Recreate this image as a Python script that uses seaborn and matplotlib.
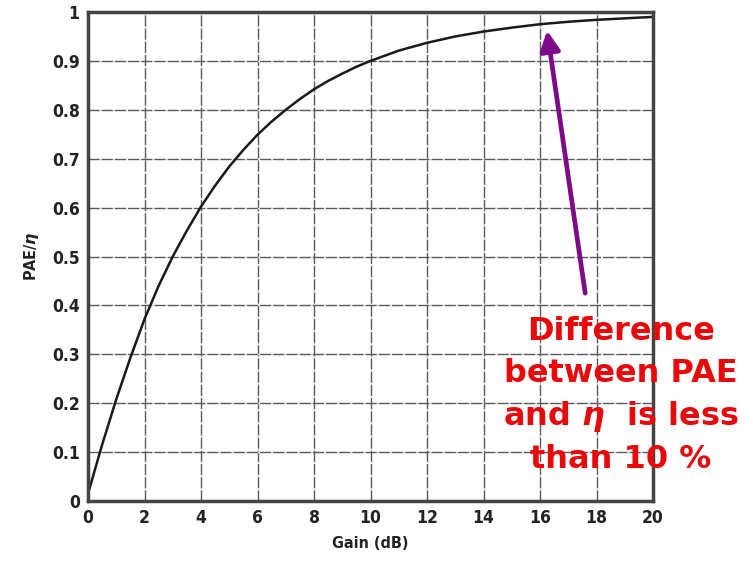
import matplotlib
matplotlib.use("Agg")
import matplotlib.pyplot as plt
import seaborn as sns
import pandas as pd

gain_db = [0, 0.5, 1, 1.5, 2, 2.5, 3, 3.5, 4, 4.5, 5, 5.5, 6, 6.5, 7, 7.5, 8, 8.5, 9, 9.5, 10,
           11, 12, 13, 14, 15, 16, 17, 18, 19, 20]
pae_ratio = [0.015, 0.115, 0.208, 0.293, 0.372, 0.44, 0.5, 0.553, 0.602, 0.645, 0.684, 0.718,
             0.749, 0.776, 0.8, 0.822, 0.842, 0.859, 0.874, 0.888, 0.9,
             0.921, 0.937, 0.95, 0.96, 0.968, 0.975, 0.98, 0.984, 0.987, 0.99]
x_ticks = list(range(0, 21, 2))
y_ticks = [0, 0.1, 0.2, 0.3, 0.4, 0.5, 0.6, 0.7, 0.8, 0.9, 1]
y_tick_labels = ["0", "0.1", "0.2", "0.3", "0.4", "0.5", "0.6", "0.7", "0.8", "0.9", "1"]
note_lines = ["Difference", "between PAE", r"and $\eta$  is less", "than 10 %"]

df = pd.DataFrame({"gain": gain_db, "ratio": pae_ratio})

sns.set_theme(style="white")
plt.rcParams["font.family"] = ["DejaVu Sans"]
plt.rcParams["mathtext.fontset"] = "custom"
plt.rcParams["mathtext.it"] = "DejaVu Sans:italic:bold"

fig = plt.figure(figsize=(7.48, 5.62), dpi=100)
ax = fig.add_axes([88 / 748, 1 - 501 / 562, (653 - 88) / 748, (501 - 12) / 562])

sns.lineplot(data=df, x="gain", y="ratio", ax=ax, color="#1a1a1a", linewidth=1.8)

ax.set_xlim(0, 20)
ax.set_ylim(0, 1)
ax.set_xticks(x_ticks)
ax.set_xticklabels([str(t) for t in x_ticks])
ax.set_yticks(y_ticks)
ax.set_yticklabels(y_tick_labels)
ax.tick_params(length=0, labelsize=12.5, pad=6, colors="#222222")
for lab in ax.get_xticklabels() + ax.get_yticklabels():
    lab.set_fontweight("bold")
    lab.set_fontstretch("condensed")

ax.grid(True, color="#5a5a5a", linewidth=1.0, linestyle=(0, (8, 1.5)), gapcolor="#e4e4e4")
ax.set_axisbelow(True)
for s in ax.spines.values():
    s.set_color("#444444")
    s.set_linewidth(2.5)

ax.set_xlabel("Gain (dB)", fontsize=11.5, fontweight="bold", color="#222222", labelpad=6,
              fontstretch="condensed")
ax.set_ylabel(r"PAE/$\eta$", fontsize=11.5, fontweight="bold", color="#222222", labelpad=8,
              fontstretch="condensed")

ax.annotate("", xy=(16.25, 0.962), xytext=(17.6, 0.425),
            arrowprops=dict(arrowstyle="-|>,head_length=0.6,head_width=0.3", color="#7d0a86",
                            linewidth=3.4, shrinkA=0, shrinkB=0, mutation_scale=20))

for i, line in enumerate(note_lines):
    fig.text(621 / 748, 1 - (331 + i * 43) / 562, line, ha="center", va="center",
             fontsize=23, fontweight="bold", color="#e8090b", family="DejaVu Sans")

fig.savefig("out.png", dpi=100)
